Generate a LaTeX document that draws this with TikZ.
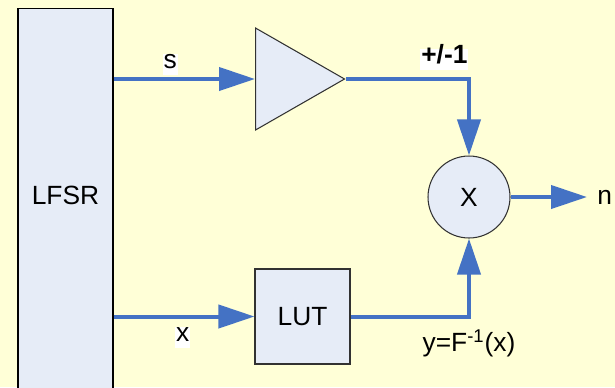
\documentclass[tikz,border=0pt]{standalone}
\usepackage{fontspec}
\setmainfont{Liberation Sans}
\usepackage{tikz}
\usetikzlibrary{shapes.geometric, arrows.meta, positioning, calc}
\definecolor{myblue}{RGB}{68,114,196}
\definecolor{mydark}{RGB}{50,50,50}
\definecolor{hdrblue}{RGB}{230,236,247}
\definecolor{bgyellow}{RGB}{255,255,215}
\tikzset{
  block/.style={rectangle, draw=mydark, fill=hdrblue,
    minimum width=1.9cm, minimum height=1.9cm, inner sep=0pt, line width=0.6pt},
  ampnode/.style={isosceles triangle, isosceles triangle stretches,
    shape border rotate=0, draw=mydark, fill=hdrblue,
    minimum width=2.04cm, minimum height=1.78cm, inner sep=0pt, line width=0.6pt},
  multnode/.style={circle, draw=mydark, fill=hdrblue,
    minimum size=1.64cm, inner sep=0pt, line width=0.6pt},
  arrow/.style={-{Triangle[length=0.72cm, width=0.46cm]}, line width=0.08cm, color=myblue},
  tag/.style={fill=white, text=black, inner xsep=0.5pt, inner ysep=1pt,
    text height=0.75em, text depth=0.25em}
}

\begin{document}
\begin{tikzpicture}[x=0.02cm, y=-0.02cm, font=\fontsize{15}{18}\selectfont]
  \fill[bgyellow] (0,0) rectangle (615,387);
  \useasboundingbox (0,0) rectangle (615,387);

  % Nodes
  \node[block, draw=black, minimum height=7.84cm,
    label={[yshift=0.17cm]center:LFSR}] (lfsr) at (65.5,204) {};
  \node[ampnode, anchor=west] (amp) at (255,79) {};
  \node[multnode] (mult) at (469,197) {X};
  \node[block] (lut) at (302.5,316.5) {LUT};
  \node[anchor=west, inner xsep=0.2cm] (out) at (587,197) {n};

  % Paths
  \draw[arrow] (lfsr.east |- amp.west) -- node[tag, pos=0.4, above=0.04cm] {s} (amp.west);
  \draw[arrow] (lfsr.east |- lut.west) -- node[tag, pos=0.49, below=0.16cm] {x} (lut.west);
  \draw[arrow] (amp.east) -| node[tag, pos=0.4, above=0.14cm] {\bfseries +/-1} (mult.north);
  \draw[arrow] (lut.east) -| node[text=black, pos=0.5, below=0.1cm] {y=F\textsuperscript{-1}(x)} (mult.south);
  \draw[arrow] (mult.east) -- (out.west);
\end{tikzpicture}
\end{document}
